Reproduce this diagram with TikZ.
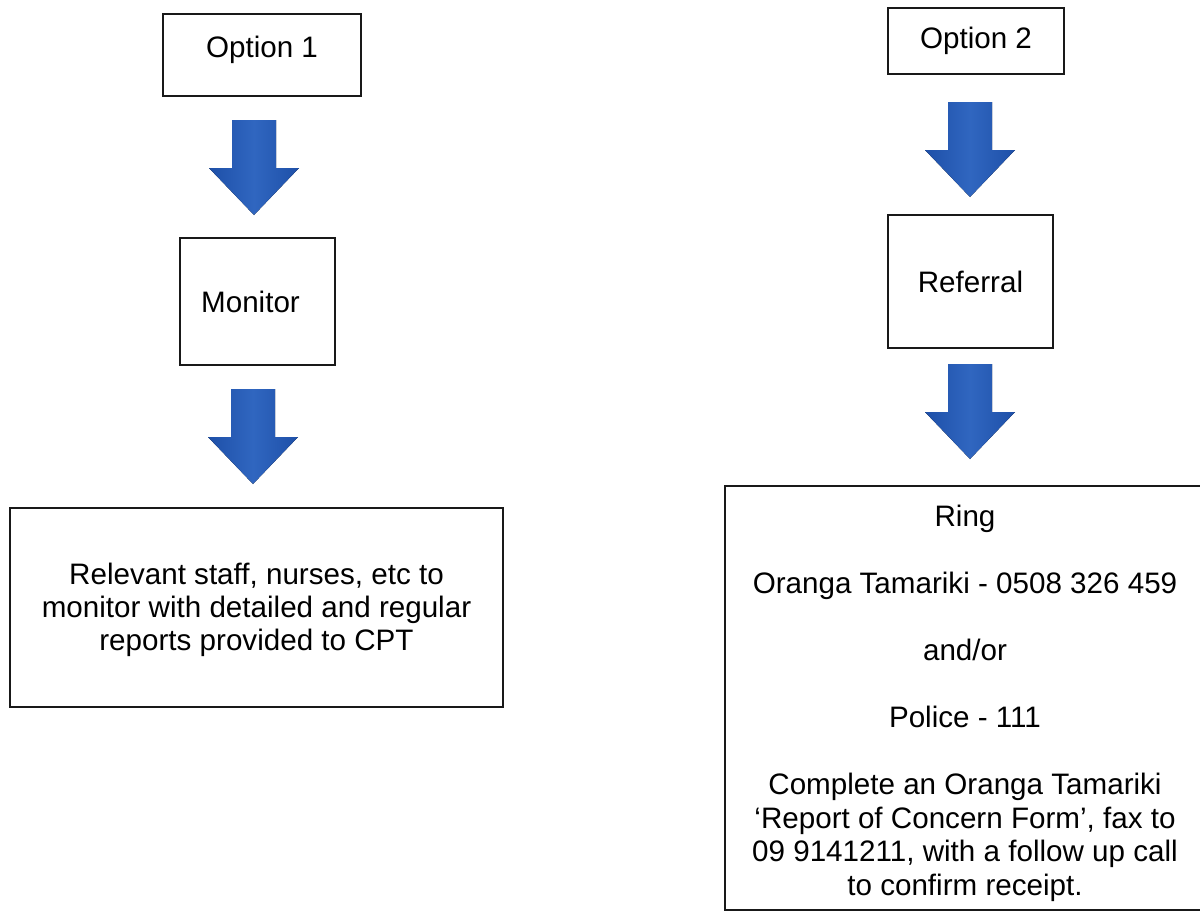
\documentclass[tikz,border=0pt]{standalone}
\usepackage{fontspec}
\setmainfont{Liberation Sans}
\usetikzlibrary{positioning}
\definecolor{arrowside}{RGB}{30,80,168}
\definecolor{arrowmid}{RGB}{48,102,192}
\tikzset{
  bigarrow/.pic = {
    \fill[left color=arrowside, right color=arrowside, middle color=arrowmid]
      (-22,0) -- (22,0) -- (22,48) -- (45,48) -- (0,95) -- (-45,48) -- (-22,48) -- cycle;
  }
}
\begin{document}
\begin{tikzpicture}[x=0.5pt, y=-0.5pt,
    box/.style = {draw=black!90, line width=1.1pt, align=center, inner sep=0pt,
                  font=\fontsize{14.8}{16.7}\selectfont}]
        \clip (0,0) rectangle (1200,912);
        % left column
        \node[box, minimum width=99pt, minimum height=41pt] (opt1) at (262,55) {\raisebox{8pt}{Option 1}};
        \node[box, minimum width=77.5pt, minimum height=63.5pt] (monitor) at (257.5,301.5)
          {\hspace*{-7pt}\raisebox{-2pt}{Monitor}};
        \node[box, minimum width=246.5pt, minimum height=99.5pt] (relevant) at (256.5,607.5)
          {\rule{0pt}{13pt}Relevant staff, nurses, etc to\\ monitor with detailed and regular\\ reports provided to CPT};
        % right column
        \node[box, minimum width=88pt, minimum height=33pt] (opt2) at (976,41) {Option 2};
        \node[box, minimum width=82.5pt, minimum height=66.5pt] (referral) at (970.5,281.5) {Referral};
        \node[box, minimum width=240pt, minimum height=212pt] (ring) at (965,698)
          {\rule{0pt}{16pt}Ring\\[16.8pt]
           Oranga Tamariki - 0508 326 459\\[16.8pt]
           and/or\\[16.8pt]
           Police - 111\\[16.8pt]
           Complete an Oranga Tamariki\\
           ‘Report of Concern Form’, fax to\\
           09 9141211, with a follow up call\\
           to confirm receipt.};
        %
        \pic at (254,120) {bigarrow};
        \pic at (253,389) {bigarrow};
        \pic at (970,102) {bigarrow};
        \pic at (970,364) {bigarrow};
      \end{tikzpicture}
\end{document}
